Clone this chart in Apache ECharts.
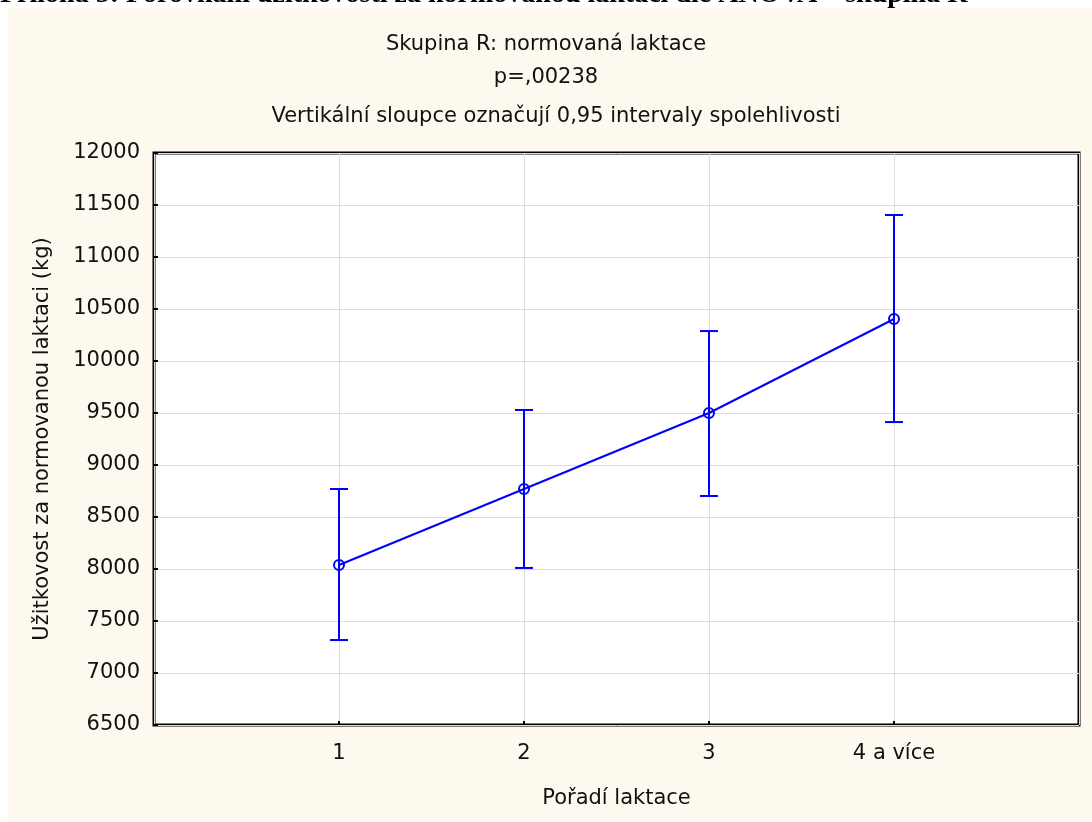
<!DOCTYPE html>
<html>
<head>
<meta charset="utf-8">
<script src="https://cdn.jsdelivr.net/npm/echarts@6/dist/echarts.min.js"></script>
<style>
  html, body { margin: 0; padding: 0; background: #ffffff; }
  #chart { width: 1092px; height: 822px; }
</style>
</head>
<body>
<div id="chart"></div>
<script>
// Pořadí laktace (x categories) and their positions on the axis
const categories = ['1', '2', '3', '4 a více'];
const positions = [1, 2, 3, 4];
// Průměrná užitkovost za normovanou laktaci (kg)
const means = [8038, 8769, 9500, 10404];
// 0,95 intervaly spolehlivosti
const ciLower = [7317, 8010, 8702, 9413];
const ciUpper = [8769, 9529, 10288, 11404];
// Y axis scale
const yMin = 6500, yMax = 12000, yStep = 500;

const FONT = '"DejaVu Sans", Arial, sans-serif';
const FS = 21;
const TXT = '#111';
const BLUE = '#0000ff';

const chart = echarts.init(document.getElementById('chart'));

const linePoints = positions.map((p, i) => [p, means[i]]);
const errPoints = positions.map((p, i) => [p, ciLower[i], ciUpper[i]]);

chart.setOption({
  backgroundColor: '#ffffff',
  animation: false,
  graphic: [
    {
      type: 'text',
      z: -20,
      left: 0,
      top: -19,
      style: {
        text: 'Příloha 5: Porovnání užitkovosti za normovanou laktaci dle ANOVA – skupina R',
        font: 'bold 28px "Liberation Serif", "Times New Roman", serif',
        fill: '#000'
      }
    },
    {
      type: 'rect',
      z: -10,
      shape: { x: 8, y: 8, width: 1084, height: 814 },
      style: { fill: '#fef9ef' }
    },
    {
      type: 'text', z: 5, x: 546, y: 45,
      style: { text: 'Skupina R: normovaná laktace', font: FS + 'px ' + FONT, fill: TXT, align: 'center', verticalAlign: 'middle' }
    },
    {
      type: 'text', z: 5, x: 546, y: 78,
      style: { text: 'p=,00238', font: FS + 'px ' + FONT, fill: TXT, align: 'center', verticalAlign: 'middle' }
    },
    {
      type: 'text', z: 5, x: 556, y: 117,
      style: { text: 'Vertikální sloupce označují 0,95 intervaly spolehlivosti', font: FS + 'px ' + FONT, fill: TXT, align: 'center', verticalAlign: 'middle' }
    }
  ],
  grid: {
    left: 154, top: 153, right: 13, bottom: 97,
    show: true,
    backgroundColor: '#ffffff',
    borderColor: '#000',
    borderWidth: 3
  },
  xAxis: {
    type: 'value',
    min: 0, max: 5, interval: 1,
    name: 'Pořadí laktace',
    nameLocation: 'middle',
    nameGap: 63,
    nameTextStyle: { fontFamily: FONT, fontSize: FS, color: TXT },
    axisLine: { show: false },
    axisTick: { show: true, inside: true, length: 4, lineStyle: { color: '#000', width: 2 } },
    axisLabel: {
      fontFamily: FONT, fontSize: FS, color: TXT, margin: 18,
      showMinLabel: false, showMaxLabel: false,
      formatter: v => {
        const i = positions.indexOf(v);
        return i >= 0 ? categories[i] : '';
      }
    },
    splitLine: { show: true, lineStyle: { color: '#dcdcdc', width: 1 } }
  },
  yAxis: {
    type: 'value',
    min: yMin, max: yMax, interval: yStep,
    name: 'Užitkovost za normovanou laktaci (kg)',
    nameLocation: 'middle',
    nameGap: 101,
    nameTextStyle: { fontFamily: FONT, fontSize: FS, color: TXT },
    axisLine: { show: false },
    axisTick: { show: true, inside: true, length: 4, lineStyle: { color: '#000', width: 2 } },
    axisLabel: { fontFamily: FONT, fontSize: FS, color: TXT, margin: 14, formatter: v => String(v) },
    splitLine: { show: true, lineStyle: { color: '#dcdcdc', width: 1 } }
  },
  series: [
    {
      type: 'custom',
      data: errPoints,
      z: 3,
      renderItem: (params, api) => {
        const x = api.value(0);
        const lo = api.coord([x, api.value(1)]);
        const hi = api.coord([x, api.value(2)]);
        const cap = 9;
        const style = { stroke: BLUE, lineWidth: 2 };
        return {
          type: 'group',
          children: [
            { type: 'line', shape: { x1: lo[0], y1: lo[1], x2: hi[0], y2: hi[1] }, style },
            { type: 'line', shape: { x1: hi[0] - cap, y1: hi[1], x2: hi[0] + cap, y2: hi[1] }, style },
            { type: 'line', shape: { x1: lo[0] - cap, y1: lo[1], x2: lo[0] + cap, y2: lo[1] }, style }
          ]
        };
      }
    },
    {
      type: 'line',
      data: linePoints,
      z: 4,
      symbol: 'circle',
      symbolSize: 10,
      itemStyle: { color: 'rgba(0,0,0,0)', borderColor: BLUE, borderWidth: 2 },
      lineStyle: { color: BLUE, width: 2 }
    }
  ]
});
</script>
</body>
</html>
